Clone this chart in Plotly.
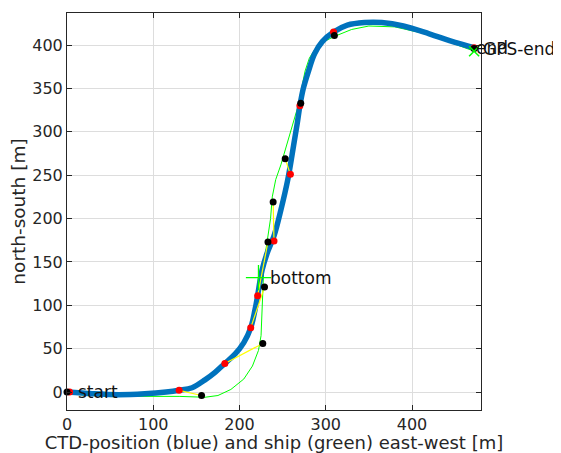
import plotly.graph_objects as go

# CTD path (blue)
ctd_x = [0, 30, 60, 90, 115, 130, 145, 160, 172, 183, 195, 205, 213, 218, 221, 226, 232, 240, 248, 256, 262, 267, 270, 274, 280, 287, 296, 309, 325, 345, 365, 390, 420, 450, 472]
ctd_y = [0, -2, -3, -2, 0, 2, 5, 14, 23, 33, 44, 57, 74, 95, 111, 140, 160, 180, 210, 245, 280, 310, 330, 350, 370, 390, 404, 415, 423, 426, 426, 422, 413, 403, 397]

# Ship track (green)
ship_x = [0, 30, 70, 100, 130, 160, 175, 190, 205, 215, 222, 225, 226, 227, 228, 230, 233, 236, 238, 242, 248, 255, 262, 268, 272, 276, 281, 288, 296, 310, 330, 350, 380, 420, 450, 472]
ship_y = [-2, -4, -5, -5, -5, -6, -4, 3, 15, 30, 48, 65, 100, 120, 140, 160, 180, 200, 225, 245, 262, 285, 310, 330, 350, 370, 385, 396, 403, 410, 418, 422, 421, 412, 401, 393]

# CTD positions at cast times (red) and ship positions (black)
red_x = [3, 130, 183, 213, 221, 240, 259, 270, 309, 472]
red_y = [0, 2, 33, 74, 111, 174, 251, 330, 415, 397]
black_x = [0, 156, 227, 229, 233, 239, 253, 271, 310, 472]
black_y = [0, -4, 56, 121, 173, 219, 269, 333, 411, 396]

bottom_xy = (222, 132)
x_ticks = [0, 100, 200, 300, 400]
y_ticks = [0, 50, 100, 150, 200, 250, 300, 350, 400]

FONT = "DejaVu Sans"
TXT = "#262626"

fig = go.Figure()

fig.add_trace(go.Scatter(x=ship_x, y=ship_y, mode="lines",
                         line=dict(color="#00FF00", width=1), hoverinfo="skip"))
fig.add_trace(go.Scatter(x=ctd_x, y=ctd_y, mode="lines",
                         line=dict(color="#0072BD", width=5.5, shape="spline"), hoverinfo="skip"))

yx, yy = [], []
for rx, ry, bx, by in zip(red_x, red_y, black_x, black_y):
    yx += [rx, bx, None]
    yy += [ry, by, None]
fig.add_trace(go.Scatter(x=yx, y=yy, mode="lines",
                         line=dict(color="#FFFF00", width=1.2), hoverinfo="skip"))

fig.add_trace(go.Scatter(x=red_x, y=red_y, mode="markers",
                         marker=dict(color="#FF0000", size=7), cliponaxis=False, hoverinfo="skip"))
fig.add_trace(go.Scatter(x=black_x, y=black_y, mode="markers",
                         marker=dict(color="#000000", size=7), cliponaxis=False, hoverinfo="skip"))

fig.add_trace(go.Scatter(x=[bottom_xy[0]], y=[bottom_xy[1]], mode="markers",
                         marker=dict(symbol="cross-thin", size=18, line=dict(color="#00FF00", width=1.3)),
                         hoverinfo="skip"))
fig.add_trace(go.Scatter(x=[ship_x[-1]], y=[ship_y[-1]], mode="markers",
                         marker=dict(symbol="x-thin", size=10, line=dict(color="#00FF00", width=1.5)),
                         cliponaxis=False, hoverinfo="skip"))

def label(x, y, t, xshift=0, size=17):
    fig.add_annotation(x=x, y=y, text=t, showarrow=False, xanchor="left", yanchor="middle",
                       xshift=xshift, font=dict(family=FONT, size=size, color="#111111"))

label(10, 0, "start")
label(bottom_xy[0] + 11, bottom_xy[1], "bottom")
label(472, 397, "end")
label(472, 396, "GPS-end", xshift=7)

fig.update_layout(
    width=553, height=445,
    margin=dict(l=59, r=80, t=5, b=43),
    paper_bgcolor="white", plot_bgcolor="white",
    showlegend=False,
    font=dict(family=FONT, size=15, color=TXT),
    xaxis=dict(range=[0, 480], tickvals=x_ticks, ticks="inside", ticklen=5, tickcolor=TXT,
               showline=True, linecolor=TXT, linewidth=1, mirror="ticks",
               showgrid=True, gridcolor="#DDDDDD", zeroline=False, automargin=False,
               title=dict(text="CTD-position (blue) and ship (green) east-west [m]", standoff=7,
                          font=dict(size=18)),
               tickfont=dict(size=16, color=TXT)),
    yaxis=dict(range=[-20.7, 437], tickvals=y_ticks, ticks="inside", ticklen=5, tickcolor=TXT,
               showline=True, linecolor=TXT, linewidth=1, mirror="ticks",
               showgrid=True, gridcolor="#DDDDDD", zeroline=False, automargin=False,
               title=dict(text="north-south [m]", standoff=6, font=dict(size=18.5)),
               tickfont=dict(size=16, color=TXT)),
)

fig.write_html("out.html")
